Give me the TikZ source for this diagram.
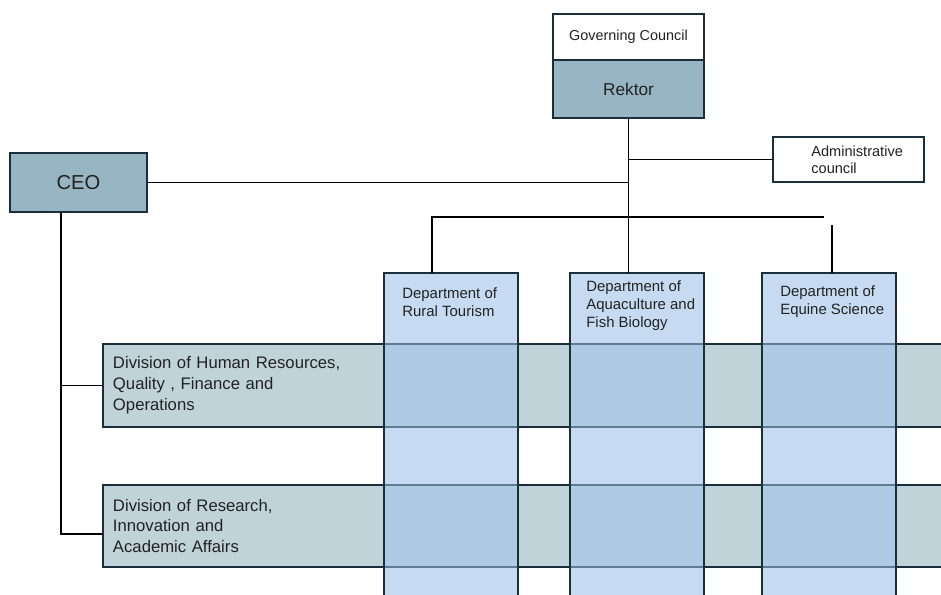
\documentclass[tikz,border=0pt]{standalone}
\usepackage{fontspec}
\setmainfont{Liberation Sans}
\definecolor{boxline}{HTML}{1B2E3C}
\definecolor{headfill}{HTML}{98B5C3}
\definecolor{divfill}{HTML}{BFD3D9}
\definecolor{deptfill}{HTML}{C6DBF1}
\definecolor{crossfill}{HTML}{AECAE4}
\definecolor{crossline}{HTML}{5E7C92}
\definecolor{inktext}{HTML}{222222}
\tikzset{
  box/.style={draw=boxline, line width=1.4pt, inner sep=0pt, outer sep=0pt, text=inktext},
  topbox/.style={box, minimum width=3.02cm},
  divbox/.style={box, fill=divfill, anchor=west, minimum width=17.14cm,
    text width=16.74cm, inner xsep=0.2cm, align=left,
    font=\fontsize{9.5}{11.9}\selectfont},
  deptcol/.style={fill=deptfill, inner sep=0pt, outer sep=0pt, anchor=north west,
    minimum width=2.68cm, minimum height=6.74cm},
  deptlabel/.style={anchor=west, align=left, inner sep=0pt, text=inktext,
    font=\fontsize{8.5}{10.2}\selectfont},
  link/.style={draw=black, line width=1.1pt}
}
\begin{document}
\begin{tikzpicture}[x=0.02cm,y=-0.02cm]
  \clip (0,0) rectangle (941,595);
  \fill[white] (0,0) rectangle (941,595);

  \node[topbox, fill=white, minimum height=0.92cm, font=\fontsize{8.2}{10}\selectfont] (gov) at (628.5,37) {Governing Council};
  \node[topbox, fill=headfill, minimum height=1.16cm, font=\fontsize{9.8}{12}\selectfont] (rektor) at (628.5,89) {Rektor};
  \node[topbox, fill=white, minimum height=0.9cm] (admin) at (848.5,159.5) {};
  \node[anchor=west, align=left, inner sep=0pt, text=inktext, font=\fontsize{8.3}{9.6}\selectfont] (admintext) at (811,159.5) {Administrative\\council};
  \node[box, fill=headfill, minimum width=2.74cm, minimum height=1.18cm, font=\fontsize{11.5}{13}\selectfont] (ceo) at (78.5,182.5) {CEO};

  \node[divbox, minimum height=1.66cm] (divhr) at (103,385.5) {Division of Human Resources,\\Quality , Finance and\\Operations};
  \node[divbox, minimum height=1.64cm] (divra) at (103,526) {Division of Research,\\Innovation and\\Academic Affairs};

  \foreach \x/\name in {384/rural,570/aqua,762/equine}{
    \node[deptcol] (\name) at (\x,273) {};
    \fill[crossfill] (\x,344) rectangle ++(134,83) (\x,485) rectangle ++(134,82);
    \draw[crossline, line width=1.2pt] (\x,344) -- ++(134,0) (\x,427) -- ++(134,0)
      (\x,485) -- ++(134,0) (\x,567) -- ++(134,0);
    \draw[boxline, line width=1.4pt] (\name.north west) rectangle (\name.south east);
  }
  \node[deptlabel] (rurallbl) at (402,302) {Department of\\Rural Tourism};
  \node[deptlabel] (aqualbl) at (586,306) {Department of\\Aquaculture and\\Fish Biology};
  \node[deptlabel] (equinelbl) at (780,302) {Department of\\Equine Science};

  \coordinate (busl) at (432,217);
  \coordinate (busr) at (824,217);
  \coordinate (stub) at (832,225);
  \coordinate (ceodrop) at (61,212);
  \coordinate (ceoend) at (61,534);
  \draw[link] (rektor.south) -- (rektor.south |- aqua.north);
  \draw[link] (rektor.south |- admin.west) -- (admin.west);
  \draw[link] (ceo.east) -- (ceo.east -| rektor.south);
  \draw[link] (busl |- rural.north) -- (busl) -- (busr);
  \draw[link] (stub) -- (stub |- equine.north);
  \draw[link] (ceodrop) -- (ceoend) -- (ceoend -| divra.west);
  \draw[link] (ceodrop |- divhr.west) -- (divhr.west);
\end{tikzpicture}
\end{document}
